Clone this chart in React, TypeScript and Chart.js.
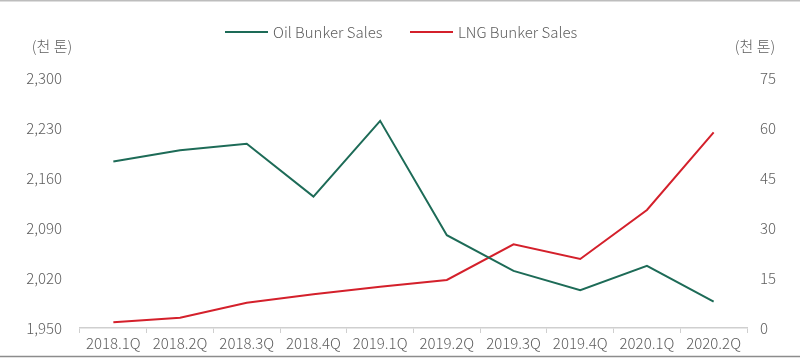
import React, { useEffect, useRef } from "react";
import { Chart, registerables } from "chart.js";

Chart.register(...registerables);

const categories = [
  "2018.1Q", "2018.2Q", "2018.3Q", "2018.4Q", "2019.1Q",
  "2019.2Q", "2019.3Q", "2019.4Q", "2020.1Q", "2020.2Q",
];
const oilSales = [2183, 2199, 2208, 2134, 2240, 2080, 2030, 2003, 2037, 1987];
const lngSales = [1.7, 3.1, 7.6, 10.1, 12.4, 14.4, 25.1, 20.7, 35.4, 58.7];
const oilLabel = "Oil Bunker Sales";
const lngLabel = "LNG Bunker Sales";
const unitLabel = "(천 톤)";
const leftTicks = { min: 1950, max: 2300, step: 70 };
const rightTicks = { min: 0, max: 75, step: 15 };

const OIL_COLOR = "#1d6b57";
const LNG_COLOR = "#d4202b";
const TEXT_COLOR = "#5e5e5e";
const FONT_FAMILY = "'Noto Sans CJK KR', 'Noto Sans', sans-serif";
const FONT_SIZE = 15;
const FONT_WEIGHT = "300";

const decorPlugin = {
  id: "decor",
  afterDraw(chart: any) {
    const ctx = chart.ctx;
    const w = chart.width;
    ctx.save();
    // frame lines
    ctx.strokeStyle = "#bdbdbd";
    ctx.lineWidth = 1.5;
    ctx.beginPath();
    ctx.moveTo(0, 0.75);
    ctx.lineTo(w, 0.75);
    ctx.stroke();
    ctx.strokeStyle = "#8c8c8c";
    ctx.beginPath();
    ctx.moveTo(0, 356.5);
    ctx.lineTo(w, 356.5);
    ctx.stroke();

    ctx.font = `${FONT_WEIGHT} ${FONT_SIZE}px ${FONT_FAMILY}`;
    ctx.fillStyle = TEXT_COLOR;
    ctx.textBaseline = "middle";
    ctx.textAlign = "center";
    ctx.fillText(unitLabel, 52, 46);
    ctx.fillText(unitLabel, 755, 46);

    // legend
    const items = [
      { label: oilLabel, color: chart.data.datasets[0].borderColor, x: 225 },
      { label: lngLabel, color: chart.data.datasets[1].borderColor, x: 410 },
    ];
    ctx.textAlign = "left";
    items.forEach((it) => {
      ctx.strokeStyle = it.color;
      ctx.lineWidth = 2;
      ctx.beginPath();
      ctx.moveTo(it.x, 32);
      ctx.lineTo(it.x + 43, 32);
      ctx.stroke();
      ctx.fillText(it.label, it.x + 48, 32);
    });
    ctx.restore();
  },
};

export default function App() {
  const ref = useRef<HTMLCanvasElement>(null);

  useEffect(() => {
    if (!ref.current) return;
    const tickFont = { size: FONT_SIZE, family: FONT_FAMILY, weight: FONT_WEIGHT };
    const chart = new Chart(ref.current, {
      type: "line",
      data: {
        labels: categories,
        datasets: [
          {
            label: oilLabel,
            data: oilSales,
            borderColor: OIL_COLOR,
            backgroundColor: OIL_COLOR,
            borderWidth: 2,
            pointRadius: 0,
            tension: 0,
            yAxisID: "yLeft",
          },
          {
            label: lngLabel,
            data: lngSales,
            borderColor: LNG_COLOR,
            backgroundColor: LNG_COLOR,
            borderWidth: 2,
            pointRadius: 0,
            tension: 0,
            yAxisID: "yRight",
          },
        ],
      },
      options: {
        responsive: false,
        animation: false,
        layout: { padding: { top: 78, left: 0, right: 0, bottom: 0 } },
        plugins: {
          legend: { display: false },
          tooltip: { enabled: false },
        },
        scales: {
          x: {
            offset: true,
            grid: {
              offset: true,
              drawOnChartArea: false,
              drawTicks: true,
              tickLength: 5,
              color: "#cfcfcf",
            },
            border: { display: true, color: "#cfcfcf", width: 1.5 },
            ticks: {
              color: TEXT_COLOR,
              font: tickFont,
              padding: 1,
              maxRotation: 0,
              autoSkip: false,
            },
            afterFit(scale: any) {
              scale.height = 30;
            },
          },
          yLeft: {
            position: "left",
            min: leftTicks.min,
            max: leftTicks.max,
            grid: { display: false, drawTicks: false },
            border: { display: false },
            ticks: {
              stepSize: leftTicks.step,
              color: TEXT_COLOR,
              font: tickFont,
              padding: 18,
              callback: (v: any) => Number(v).toLocaleString("en-US"),
            },
            afterFit(scale: any) {
              scale.width = 80;
            },
          },
          yRight: {
            position: "right",
            min: rightTicks.min,
            max: rightTicks.max,
            grid: { display: false, drawTicks: false },
            border: { display: false },
            ticks: {
              stepSize: rightTicks.step,
              color: TEXT_COLOR,
              font: tickFont,
              padding: 13,
            },
            afterFit(scale: any) {
              scale.width = 53;
            },
          },
        },
      },
      plugins: [decorPlugin],
    });
    return () => chart.destroy();
  }, []);

  return (
    <div style={{ position: "fixed", left: 0, top: 0, width: 800, height: 358, background: "#fff" }}>
      <canvas ref={ref} width={800} height={358} style={{ display: "block" }} />
    </div>
  );
}
